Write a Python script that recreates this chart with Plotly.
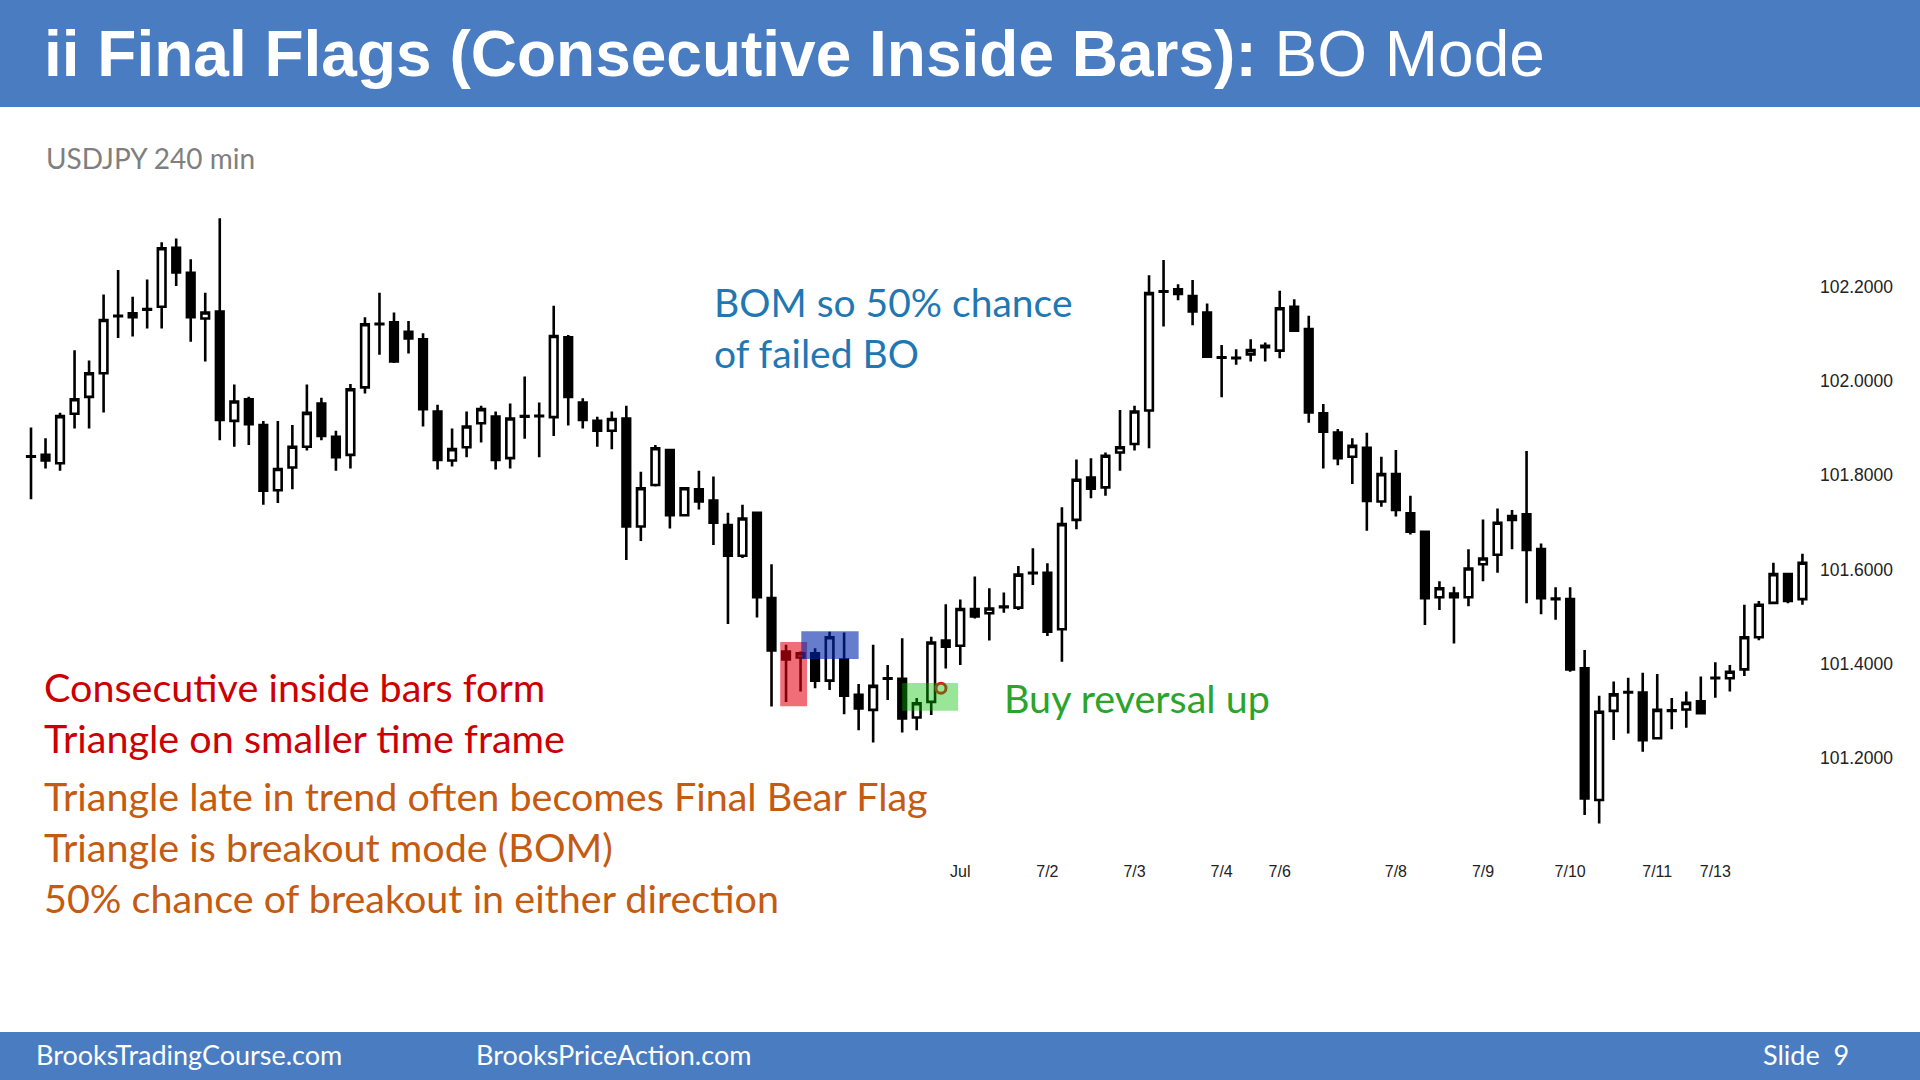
import plotly.graph_objects as go

# ---------------- data ----------------
bar_index = list(range(123))
opens = [101.840, 101.843, 101.825, 101.930, 101.966, 102.016, 102.137, 102.143, 102.151, 102.157,
         102.282, 102.229, 102.132, 102.147, 101.915, 101.961, 101.906, 101.768, 101.816, 101.860,
         101.952, 101.881, 101.843, 101.986, 102.120, 102.124, 102.104, 102.088, 101.935, 101.831,
         101.859, 101.910, 101.924, 101.836, 101.924, 101.925, 101.923, 102.092, 101.954, 101.915,
         101.894, 101.920, 101.691, 101.779, 101.853, 101.715, 101.770, 101.746, 101.694, 101.629,
         101.720, 101.539, 101.426, 101.413, 101.422, 101.364, 101.409, 101.334, 101.302, 101.368,
         101.368, 101.286, 101.319, 101.449, 101.438, 101.516, 101.507, 101.520, 101.519, 101.592,
         101.593, 101.473, 101.705, 101.795, 101.774, 101.848, 101.866, 101.937, 102.189, 102.194,
         102.180, 102.145, 102.049, 102.048, 102.056, 102.074, 102.064, 102.157, 102.110, 101.931,
         101.890, 101.839, 101.858, 101.744, 101.802, 101.719, 101.680, 101.541, 101.549, 101.541,
         101.611, 101.631, 101.705, 101.717, 101.643, 101.537, 101.537, 101.390, 101.111, 101.300,
         101.339, 101.339, 101.242, 101.300, 101.303, 101.320, 101.369, 101.369, 101.388, 101.456,
         101.529, 101.590, 101.537]
highs = [101.901, 101.878, 101.932, 102.065, 102.043, 102.183, 102.235, 102.178, 102.215, 102.294,
         102.302, 102.258, 102.187, 102.345, 101.992, 101.966, 101.915, 101.915, 101.906, 101.992,
         101.964, 101.894, 101.993, 102.135, 102.187, 102.145, 102.127, 102.101, 101.949, 101.899,
         101.935, 101.947, 101.935, 101.952, 102.009, 101.954, 102.159, 102.097, 101.963, 101.924,
         101.935, 101.947, 101.807, 101.864, 101.855, 101.774, 101.809, 101.797, 101.720, 101.737,
         101.722, 101.611, 101.440, 101.426, 101.433, 101.468, 101.466, 101.357, 101.440, 101.397,
         101.454, 101.327, 101.457, 101.526, 101.536, 101.585, 101.560, 101.551, 101.607, 101.645,
         101.613, 101.732, 101.833, 101.836, 101.848, 101.938, 101.947, 102.224, 102.256, 102.205,
         102.214, 102.164, 102.076, 102.067, 102.088, 102.081, 102.191, 102.173, 102.138, 101.951,
         101.898, 101.878, 101.890, 101.839, 101.853, 101.756, 101.681, 101.575, 101.563, 101.643,
         101.706, 101.729, 101.726, 101.851, 101.655, 101.562, 101.562, 101.429, 101.332, 101.362,
         101.370, 101.381, 101.378, 101.327, 101.341, 101.373, 101.403, 101.397, 101.525, 101.533,
         101.614, 101.592, 101.633]
lows = [101.749, 101.814, 101.809, 101.899, 101.899, 101.933, 102.091, 102.094, 102.111, 102.111,
        102.201, 102.083, 102.041, 101.874, 101.860, 101.864, 101.737, 101.741, 101.770, 101.852,
        101.874, 101.809, 101.814, 101.973, 102.055, 102.038, 102.058, 101.903, 101.812, 101.818,
        101.838, 101.869, 101.812, 101.814, 101.877, 101.838, 101.883, 101.905, 101.899, 101.860,
        101.855, 101.620, 101.660, 101.776, 101.687, 101.713, 101.727, 101.652, 101.484, 101.624,
        101.498, 101.309, 101.319, 101.341, 101.348, 101.344, 101.293, 101.259, 101.233, 101.323,
        101.254, 101.259, 101.291, 101.390, 101.397, 101.496, 101.449, 101.508, 101.514, 101.567,
        101.459, 101.404, 101.685, 101.751, 101.756, 101.809, 101.852, 101.857, 102.115, 102.171,
        102.118, 102.050, 101.965, 102.034, 102.041, 102.041, 102.048, 102.104, 101.911, 101.814,
        101.821, 101.781, 101.682, 101.733, 101.712, 101.674, 101.482, 101.514, 101.443, 101.522,
        101.575, 101.593, 101.643, 101.528, 101.505, 101.493, 101.383, 101.079, 101.061, 101.238,
        101.252, 101.213, 101.240, 101.261, 101.264, 101.294, 101.328, 101.341, 101.374, 101.450,
        101.528, 101.528, 101.525]
closes = [101.839, 101.831, 101.925, 101.961, 102.016, 102.129, 102.138, 102.135, 102.152, 102.281,
          102.230, 102.135, 102.145, 101.917, 101.956, 101.908, 101.767, 101.813, 101.860, 101.932,
          101.883, 101.838, 101.982, 102.120, 102.121, 102.041, 102.090, 101.940, 101.832, 101.855,
          101.903, 101.940, 101.832, 101.920, 101.925, 101.926, 102.095, 101.966, 101.917, 101.894,
          101.919, 101.691, 101.772, 101.857, 101.715, 101.772, 101.744, 101.699, 101.629, 101.708,
          101.541, 101.428, 101.409, 101.422, 101.364, 101.456, 101.332, 101.305, 101.353, 101.369,
          101.284, 101.316, 101.445, 101.436, 101.516, 101.500, 101.517, 101.521, 101.589, 101.593,
          101.468, 101.696, 101.790, 101.771, 101.841, 101.859, 101.935, 102.186, 102.190, 102.184,
          102.147, 102.051, 102.050, 102.049, 102.065, 102.071, 102.154, 102.106, 101.933, 101.892,
          101.836, 101.862, 101.745, 101.802, 101.726, 101.680, 101.539, 101.560, 101.541, 101.602,
          101.623, 101.699, 101.713, 101.641, 101.539, 101.538, 101.388, 101.114, 101.298, 101.335,
          101.340, 101.238, 101.302, 101.301, 101.317, 101.295, 101.370, 101.383, 101.456, 101.525,
          101.590, 101.533, 101.614]

x_tick_positions = [64, 70, 76, 82, 86, 94, 100, 106, 112, 116]
x_tick_labels = ["Jul", "7/2", "7/3", "7/4", "7/6", "7/8", "7/9", "7/10", "7/11", "7/13"]
y_tick_values = [101.2, 101.4, 101.6, 101.8, 102.0, 102.2]

# highlighted zones (bar-index span, price span)
red_zone = dict(x=[51.6, 53.45], y=[101.310, 101.446])
blue_zone = dict(x=[53.05, 57.0], y=[101.410, 101.469])
green_zone = dict(x=[60.0, 63.85], y=[101.300, 101.359])
entry_point = dict(x=[62.67], y=[101.348])

W, H = 1920, 1080


def px(x):
    return x / W


def py(y):
    return 1 - y / H


fig = go.Figure()
fig.add_trace(go.Candlestick(
    x=bar_index, open=opens, high=highs, low=lows, close=closes,
    increasing=dict(line=dict(color="black", width=2.6), fillcolor="white"),
    decreasing=dict(line=dict(color="black", width=2.6), fillcolor="black"),
    whiskerwidth=0, hoverinfo="skip", showlegend=False,
))
fig.add_trace(go.Scatter(
    x=entry_point["x"], y=entry_point["y"], mode="markers",
    marker=dict(symbol="circle", size=10, color="white",
                line=dict(color="#e8101e", width=3)),
    hoverinfo="skip", showlegend=False,
))

shapes = []
# header and footer bands
shapes.append(dict(type="rect", xref="paper", yref="paper", x0=0, x1=1, y0=py(107), y1=1,
                   fillcolor="#4a7cc2", line=dict(width=0), layer="below"))
shapes.append(dict(type="rect", xref="paper", yref="paper", x0=0, x1=1, y0=0, y1=py(1032),
                   fillcolor="#4a7cc2", line=dict(width=0), layer="below"))
for zone, col in [(red_zone, "rgba(228,0,18,0.57)"),
                  (blue_zone, "rgba(0,38,172,0.6)"),
                  (green_zone, "rgba(0,192,0,0.4)")]:
    shapes.append(dict(type="rect", xref="x", yref="y", x0=zone["x"][0], x1=zone["x"][1],
                       y0=zone["y"][0], y1=zone["y"][1], fillcolor=col,
                       line=dict(width=0), layer="above"))

ann = []
TXT = "Lato"


def add_text(text, x, y, size, color, family=TXT, xanchor="left"):
    ann.append(dict(text=text, x=px(x), y=py(y), xref="paper", yref="paper",
                    xanchor=xanchor, yanchor="middle", showarrow=False,
                    font=dict(family=family, size=size, color=color)))


add_text("<b>ii Final Flags (Consecutive Inside Bars):</b> BO Mode", 42, 54, 64, "white",
         family="Liberation Sans, Arial, sans-serif")
add_text("USDJPY 240 min", 44, 158, 28, "#7f7f7f")
add_text("BOM so 50% chance", 712, 302, 39, "#1f78b4")
add_text("of failed BO", 712, 353, 39, "#1f78b4")
add_text("Buy reversal up", 1002, 697, 39.5, "#2aa52a")
add_text("Consecutive inside bars form", 42, 686, 39.5, "#cc0000")
add_text("Triangle on smaller time frame", 42, 737, 39.5, "#cc0000")
add_text("Triangle late in trend often becomes Final Bear Flag", 42, 795, 39.5, "#c55a11")
add_text("Triangle is breakout mode (BOM)", 42, 846, 39.5, "#c55a11")
add_text("50% chance of breakout in either direction", 42, 897, 39.5, "#c55a11")
add_text("BrooksTradingCourse.com", 34, 1054, 27, "white")
add_text("BrooksPriceAction.com", 474, 1054, 27, "white")
add_text("Slide  9", 1851, 1054, 27, "white", xanchor="right")

x_left, x_right = 20, 1819
spacing = 14.52
first_bar_px = 31
x_start = -(first_bar_px - x_left) / spacing
x_end = x_start + (x_right - x_left) / spacing

y_top, y_bot = 200, 860
ppx = 471.5  # pixels per price unit
p_top = 102.2 + (286.5 - y_top) / ppx
p_bot = 102.2 - (y_bot - 286.5) / ppx

fig.update_layout(
    width=W, height=H, margin=dict(l=0, r=0, t=0, b=0),
    paper_bgcolor="white", plot_bgcolor="white",
    shapes=shapes, annotations=ann, boxgap=0.25,
    xaxis=dict(domain=[px(x_left), px(x_right)], range=[x_start, x_end],
               tickvals=x_tick_positions, ticktext=x_tick_labels,
               showgrid=False, zeroline=False, showline=False, ticks="",
               rangeslider=dict(visible=False),
               tickfont=dict(family="Liberation Sans, Arial", size=16, color="#222")),
    yaxis=dict(domain=[py(y_bot), py(y_top)], range=[p_bot, p_top], side="right",
               tickvals=y_tick_values, tickformat=".4f",
               showgrid=False, zeroline=False, showline=False, ticks="",
               tickfont=dict(family="Liberation Sans, Arial", size=17.5, color="#222")),
    hovermode=False,
)

fig.write_html("out.html")
